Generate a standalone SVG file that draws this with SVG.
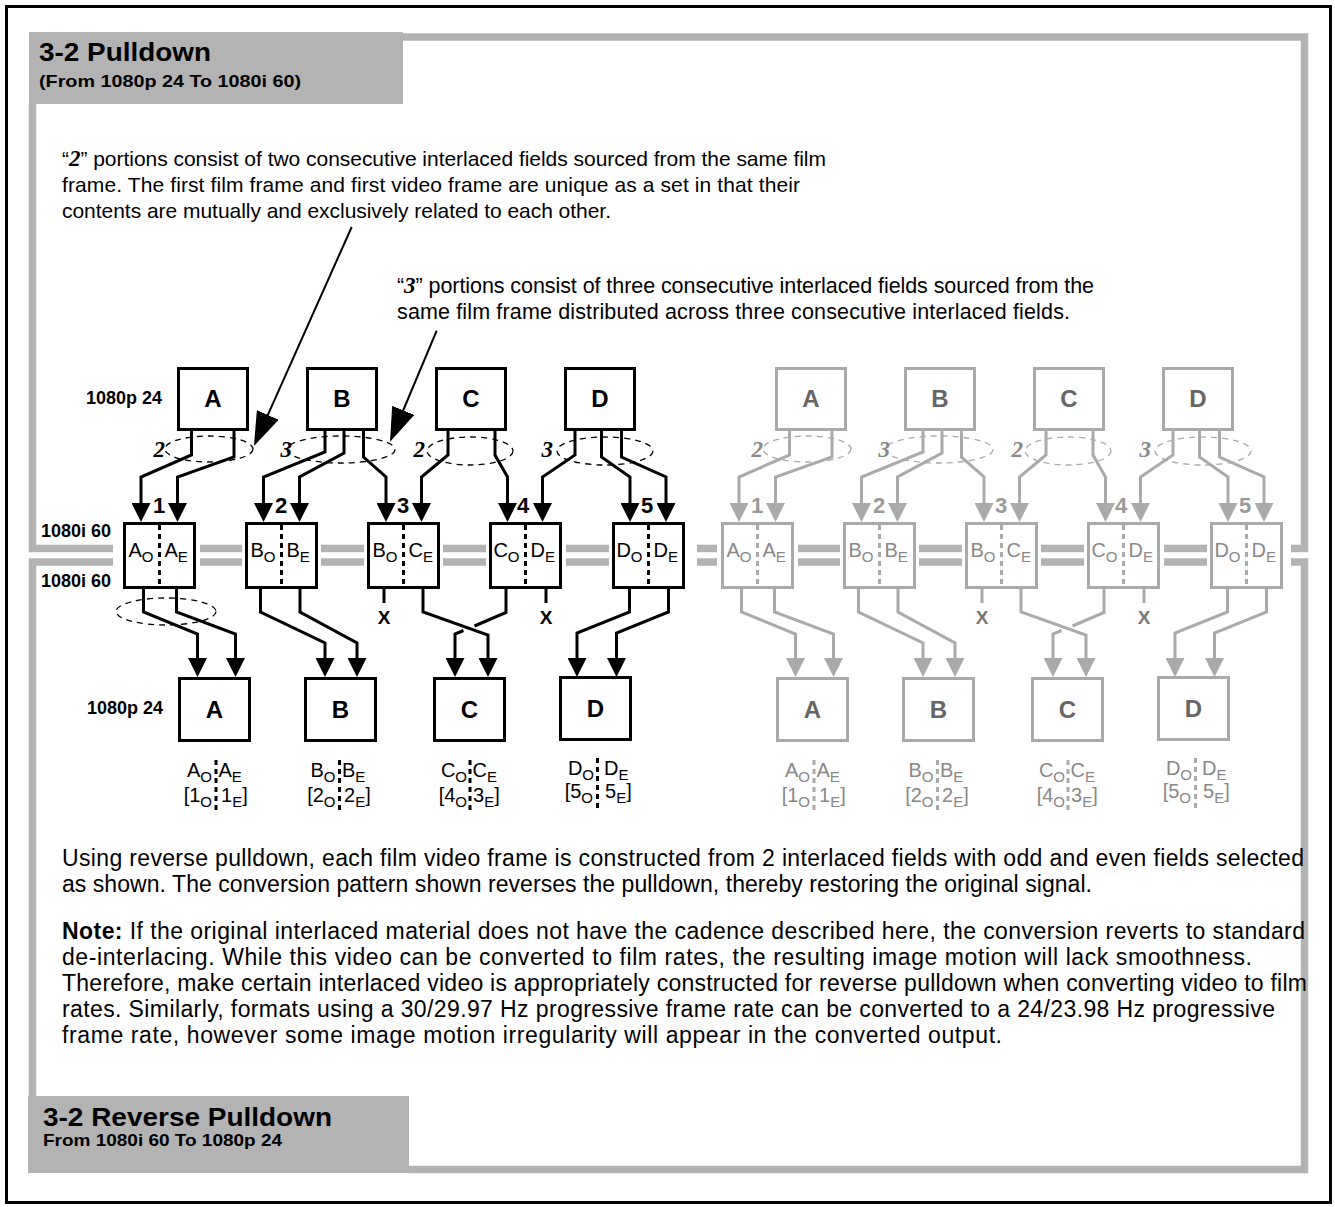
<svg xmlns="http://www.w3.org/2000/svg" width="1335" height="1207" viewBox="0 0 1335 1207">
<defs>
<style>
text{font-family:'Liberation Sans',Arial,sans-serif}
.body{fill:#000}
.p1{font-size:21px}
.p2{font-size:21.5px}
.p3{font-size:23px}
.it{font-family:'Liberation Serif','Times New Roman',serif;font-style:italic;font-weight:bold;font-size:23px}
.hd{font-weight:bold;fill:#000}
.lbl{font-weight:bold;font-size:18px;fill:#000}
.frm{stroke:#b3b3b3;stroke-width:7.5;fill:none}
.hdbox{fill:#b3b3b3}
.box{fill:#fff;stroke-width:3}
.k .box{stroke:#000}
.g .box{stroke:#aaa}
.sep{stroke-width:3;stroke-dasharray:5 4;fill:none}
.k .sep{stroke:#000}
.g .sep{stroke:#aaa}
.big{font-weight:bold;font-size:24px;text-anchor:middle}
.k .big{fill:#000}
.g .big{fill:#666}
.cn{font-family:'Liberation Sans Narrow','Arial Narrow','Liberation Sans',sans-serif;font-size:20px}
.k .cn{fill:#000}
.g .cn{fill:#888}
.sub{font-size:15px}
.num{font-family:'Liberation Sans Narrow','Arial Narrow','Liberation Sans',sans-serif;font-weight:bold;font-size:22px;text-anchor:middle}
.k .num{fill:#000}
.g .num{fill:#999}
.ln{fill:none;stroke-width:3}
.k .ln{stroke:#000;marker-end:url(#ahK)}
.g .ln{stroke:#aaa;marker-end:url(#ahG)}
.stub{fill:none;stroke-width:3}
.k .stub{stroke:#000}
.g .stub{stroke:#aaa}
.x{font-family:'Liberation Sans Narrow','Arial Narrow','Liberation Sans',sans-serif;font-weight:bold;font-size:19px;text-anchor:middle}
.k .x{fill:#000}
.g .x{fill:#777}
.ell{fill:none;stroke-width:1.3;stroke-dasharray:6 5}
.k .ell{stroke:#000}
.g .ell{stroke:#aaa}
.k .it{fill:#000}
.g .it{fill:#888}
.lead{stroke:#000;stroke-width:2;fill:none;marker-end:url(#ahBig)}
</style>
<marker id="ahK" viewBox="0 0 19 19" refX="15" refY="9.5" markerWidth="19" markerHeight="19" markerUnits="userSpaceOnUse" orient="auto"><path d="M0,0 L19,9.5 L0,19 z" fill="#000"/></marker>
<marker id="ahG" viewBox="0 0 19 19" refX="15" refY="9.5" markerWidth="19" markerHeight="19" markerUnits="userSpaceOnUse" orient="auto"><path d="M0,0 L19,9.5 L0,19 z" fill="#aaa"/></marker>
<marker id="ahBig" viewBox="0 0 34 24" refX="30" refY="12" markerWidth="34" markerHeight="24" markerUnits="userSpaceOnUse" orient="auto"><path d="M0,0 L34,12 L0,24 z" fill="#000"/></marker>
</defs>
<rect x="0" y="0" width="1335" height="1207" fill="#fff"/>
<rect x="6.5" y="6.5" width="1324" height="1196" fill="none" stroke="#000" stroke-width="3"/>

<g id="frame">
<path class="frm" d="M403,37 H1304.5 V548.5 H1291"/>
<path class="frm" d="M32.5,104 V548.5 H113"/>
<path class="frm" d="M113,562 H32.5 V1096"/>
<path class="frm" d="M409,1169.5 H1304.5 V562 H1291"/>
<g class="frm">
<path d="M200,548.5 H242 M321,548.5 H364 M443,548.5 H486 M566,548.5 H609 M697,548.5 H717 M798,548.5 H840 M919,548.5 H962 M1041,548.5 H1084 M1164,548.5 H1207"/>
<path d="M200,562 H242 M321,562 H364 M443,562 H486 M566,562 H609 M697,562 H717 M798,562 H840 M919,562 H962 M1041,562 H1084 M1164,562 H1207"/>
</g>
<g id="header-top">
<rect class="hdbox" x="29" y="32" width="374" height="72"/>
<text class="hd" x="39" y="61" font-size="25" textLength="172" lengthAdjust="spacingAndGlyphs">3-2 Pulldown</text>
<text class="hd" x="39" y="87" font-size="17" textLength="262" lengthAdjust="spacingAndGlyphs">(From 1080p 24 To 1080i 60)</text>
</g>
<g id="header-bottom">
<rect class="hdbox" x="28" y="1096" width="381" height="77"/>
<text class="hd" x="43" y="1126" font-size="25" textLength="289" lengthAdjust="spacingAndGlyphs">3-2 Reverse Pulldown</text>
<text class="hd" x="43" y="1146" font-size="17" textLength="239" lengthAdjust="spacingAndGlyphs">From 1080i 60 To 1080p 24</text>
</g>
</g>

<g id="notes">
<text class="body p1" x="62" y="166" textLength="764">“<tspan class="it">2</tspan>” portions consist of two consecutive interlaced fields sourced from the same film</text>
<text class="body p1" x="62" y="192" textLength="738">frame. The first film frame and first video frame are unique as a set in that their</text>
<text class="body p1" x="62" y="218" textLength="549">contents are mutually and exclusively related to each other.</text>
<text class="body p2" x="397" y="293" textLength="697">“<tspan class="it">3</tspan>” portions consist of three consecutive interlaced fields sourced from the</text>
<text class="body p2" x="397" y="319" textLength="673">same film frame distributed across three consecutive interlaced fields.</text>
<text class="body p3" x="62" y="866" textLength="1242">Using reverse pulldown, each film video frame is constructed from 2 interlaced fields with odd and even fields selected</text>
<text class="body p3" x="62" y="892" textLength="1030">as shown. The conversion pattern shown reverses the pulldown, thereby restoring the original signal.</text>
<text class="body p3" x="62" y="939" textLength="1243"><tspan font-weight="bold">Note:</tspan> If the original interlaced material does not have the cadence described here, the conversion reverts to standard</text>
<text class="body p3" x="62" y="965" textLength="1190">de-interlacing. While this video can be converted to film rates, the resulting image motion will lack smoothness.</text>
<text class="body p3" x="62" y="991" textLength="1245">Therefore, make certain interlaced video is appropriately constructed for reverse pulldown when converting video to film</text>
<text class="body p3" x="62" y="1017" textLength="1213">rates. Similarly, formats using a 30/29.97 Hz progressive frame rate can be converted to a 24/23.98 Hz progressive</text>
<text class="body p3" x="62" y="1043" textLength="940">frame rate, however some image motion irregularity will appear in the converted output.</text>
<text class="lbl" x="162" y="404" text-anchor="end">1080p 24</text>
<text class="lbl" x="41" y="537">1080i 60</text>
<text class="lbl" x="41" y="587">1080i 60</text>
<text class="lbl" x="163" y="714" text-anchor="end">1080p 24</text>
</g>

<!-- black set -->
<g class="k">
<g id="film-A"><rect class="box" x="178.5" y="368.5" width="69" height="61"/><text class="big" x="213" y="407">A</text></g>
<g id="film-B"><rect class="box" x="307.5" y="368.5" width="69" height="61"/><text class="big" x="342" y="407">B</text></g>
<g id="film-C"><rect class="box" x="436.5" y="368.5" width="69" height="61"/><text class="big" x="471" y="407">C</text></g>
<g id="film-D"><rect class="box" x="565.5" y="368.5" width="69" height="61"/><text class="big" x="600" y="407">D</text></g>

<g id="field-1"><rect class="box" x="124.5" y="523.5" width="70" height="64"/><line class="sep" x1="159.5" y1="525" x2="159.5" y2="586"/><text class="cn" x="153.5" y="557" text-anchor="end">A<tspan class="sub" dy="5">O</tspan></text><text class="cn" x="164.5" y="557">A<tspan class="sub" dy="5">E</tspan></text><text class="num" x="159" y="513">1</text></g>
<g id="field-2"><rect class="box" x="246.5" y="523.5" width="70" height="64"/><line class="sep" x1="281.5" y1="525" x2="281.5" y2="586"/><text class="cn" x="275.5" y="557" text-anchor="end">B<tspan class="sub" dy="5">O</tspan></text><text class="cn" x="286.5" y="557">B<tspan class="sub" dy="5">E</tspan></text><text class="num" x="281" y="513">2</text></g>
<g id="field-3"><rect class="box" x="368.5" y="523.5" width="70" height="64"/><line class="sep" x1="403.5" y1="525" x2="403.5" y2="586"/><text class="cn" x="397.5" y="557" text-anchor="end">B<tspan class="sub" dy="5">O</tspan></text><text class="cn" x="408.5" y="557">C<tspan class="sub" dy="5">E</tspan></text><text class="num" x="403" y="513">3</text></g>
<g id="field-4"><rect class="box" x="490.5" y="523.5" width="70" height="64"/><line class="sep" x1="525.5" y1="525" x2="525.5" y2="586"/><text class="cn" x="519.5" y="557" text-anchor="end">C<tspan class="sub" dy="5">O</tspan></text><text class="cn" x="530.5" y="557">D<tspan class="sub" dy="5">E</tspan></text><text class="num" x="523" y="513">4</text></g>
<g id="field-5"><rect class="box" x="613.5" y="523.5" width="70" height="64"/><line class="sep" x1="648.5" y1="525" x2="648.5" y2="586"/><text class="cn" x="642.5" y="557" text-anchor="end">D<tspan class="sub" dy="5">O</tspan></text><text class="cn" x="653.5" y="557">D<tspan class="sub" dy="5">E</tspan></text><text class="num" x="647" y="513">5</text></g>

<g id="out-A"><rect class="box" x="179.5" y="678.5" width="70" height="62"/><text class="big" x="214.5" y="718">A</text>
<line class="sep" x1="216" y1="760" x2="216" y2="810"/>
<text class="cn" x="212" y="777" text-anchor="end">A<tspan class="sub" dy="5">O</tspan></text><text class="cn" x="218.5" y="777">A<tspan class="sub" dy="5">E</tspan></text>
<text class="cn" x="212" y="802" text-anchor="end">[1<tspan class="sub" dy="5">O</tspan></text><text class="cn" x="221" y="802">1<tspan class="sub" dy="5">E</tspan><tspan dy="-5">]</tspan></text></g>
<g id="out-B"><rect class="box" x="305.5" y="678.5" width="70" height="62"/><text class="big" x="340.5" y="718">B</text>
<line class="sep" x1="339.5" y1="760" x2="339.5" y2="810"/>
<text class="cn" x="335.5" y="777" text-anchor="end">B<tspan class="sub" dy="5">O</tspan></text><text class="cn" x="342" y="777">B<tspan class="sub" dy="5">E</tspan></text>
<text class="cn" x="335.5" y="802" text-anchor="end">[2<tspan class="sub" dy="5">O</tspan></text><text class="cn" x="344" y="802">2<tspan class="sub" dy="5">E</tspan><tspan dy="-5">]</tspan></text></g>
<g id="out-C"><rect class="box" x="434.5" y="678.5" width="70" height="62"/><text class="big" x="469.5" y="718">C</text>
<line class="sep" x1="470" y1="760" x2="470" y2="810"/>
<text class="cn" x="467" y="777" text-anchor="end">C<tspan class="sub" dy="5">O</tspan></text><text class="cn" x="472.5" y="777">C<tspan class="sub" dy="5">E</tspan></text>
<text class="cn" x="467" y="802" text-anchor="end">[4<tspan class="sub" dy="5">O</tspan></text><text class="cn" x="473" y="802">3<tspan class="sub" dy="5">E</tspan><tspan dy="-5">]</tspan></text></g>
<g id="out-D"><rect class="box" x="560.5" y="677.5" width="70" height="62"/><text class="big" x="595.5" y="717">D</text>
<line class="sep" x1="597.5" y1="758" x2="597.5" y2="808"/>
<text class="cn" x="594" y="775" text-anchor="end">D<tspan class="sub" dy="5">O</tspan></text><text class="cn" x="604" y="775">D<tspan class="sub" dy="5">E</tspan></text>
<text class="cn" x="593" y="798" text-anchor="end">[5<tspan class="sub" dy="5">O</tspan></text><text class="cn" x="605" y="798">5<tspan class="sub" dy="5">E</tspan><tspan dy="-5">]</tspan></text></g>
</g>

<!-- gray set -->
<g class="g" transform="translate(598,0)">
<g id="film-A-g"><rect class="box" x="178.5" y="368.5" width="69" height="61"/><text class="big" x="213" y="407">A</text></g>
<g id="film-B-g"><rect class="box" x="307.5" y="368.5" width="69" height="61"/><text class="big" x="342" y="407">B</text></g>
<g id="film-C-g"><rect class="box" x="436.5" y="368.5" width="69" height="61"/><text class="big" x="471" y="407">C</text></g>
<g id="film-D-g"><rect class="box" x="565.5" y="368.5" width="69" height="61"/><text class="big" x="600" y="407">D</text></g>

<g id="field-1-g"><rect class="box" x="124.5" y="523.5" width="70" height="64"/><line class="sep" x1="159.5" y1="525" x2="159.5" y2="586"/><text class="cn" x="153.5" y="557" text-anchor="end">A<tspan class="sub" dy="5">O</tspan></text><text class="cn" x="164.5" y="557">A<tspan class="sub" dy="5">E</tspan></text><text class="num" x="159" y="513">1</text></g>
<g id="field-2-g"><rect class="box" x="246.5" y="523.5" width="70" height="64"/><line class="sep" x1="281.5" y1="525" x2="281.5" y2="586"/><text class="cn" x="275.5" y="557" text-anchor="end">B<tspan class="sub" dy="5">O</tspan></text><text class="cn" x="286.5" y="557">B<tspan class="sub" dy="5">E</tspan></text><text class="num" x="281" y="513">2</text></g>
<g id="field-3-g"><rect class="box" x="368.5" y="523.5" width="70" height="64"/><line class="sep" x1="403.5" y1="525" x2="403.5" y2="586"/><text class="cn" x="397.5" y="557" text-anchor="end">B<tspan class="sub" dy="5">O</tspan></text><text class="cn" x="408.5" y="557">C<tspan class="sub" dy="5">E</tspan></text><text class="num" x="403" y="513">3</text></g>
<g id="field-4-g"><rect class="box" x="490.5" y="523.5" width="70" height="64"/><line class="sep" x1="525.5" y1="525" x2="525.5" y2="586"/><text class="cn" x="519.5" y="557" text-anchor="end">C<tspan class="sub" dy="5">O</tspan></text><text class="cn" x="530.5" y="557">D<tspan class="sub" dy="5">E</tspan></text><text class="num" x="523" y="513">4</text></g>
<g id="field-5-g"><rect class="box" x="613.5" y="523.5" width="70" height="64"/><line class="sep" x1="648.5" y1="525" x2="648.5" y2="586"/><text class="cn" x="642.5" y="557" text-anchor="end">D<tspan class="sub" dy="5">O</tspan></text><text class="cn" x="653.5" y="557">D<tspan class="sub" dy="5">E</tspan></text><text class="num" x="647" y="513">5</text></g>

<g id="out-A-g"><rect class="box" x="179.5" y="678.5" width="70" height="62"/><text class="big" x="214.5" y="718">A</text>
<line class="sep" x1="216" y1="760" x2="216" y2="810"/>
<text class="cn" x="212" y="777" text-anchor="end">A<tspan class="sub" dy="5">O</tspan></text><text class="cn" x="218.5" y="777">A<tspan class="sub" dy="5">E</tspan></text>
<text class="cn" x="212" y="802" text-anchor="end">[1<tspan class="sub" dy="5">O</tspan></text><text class="cn" x="221" y="802">1<tspan class="sub" dy="5">E</tspan><tspan dy="-5">]</tspan></text></g>
<g id="out-B-g"><rect class="box" x="305.5" y="678.5" width="70" height="62"/><text class="big" x="340.5" y="718">B</text>
<line class="sep" x1="339.5" y1="760" x2="339.5" y2="810"/>
<text class="cn" x="335.5" y="777" text-anchor="end">B<tspan class="sub" dy="5">O</tspan></text><text class="cn" x="342" y="777">B<tspan class="sub" dy="5">E</tspan></text>
<text class="cn" x="335.5" y="802" text-anchor="end">[2<tspan class="sub" dy="5">O</tspan></text><text class="cn" x="344" y="802">2<tspan class="sub" dy="5">E</tspan><tspan dy="-5">]</tspan></text></g>
<g id="out-C-g"><rect class="box" x="434.5" y="678.5" width="70" height="62"/><text class="big" x="469.5" y="718">C</text>
<line class="sep" x1="470" y1="760" x2="470" y2="810"/>
<text class="cn" x="467" y="777" text-anchor="end">C<tspan class="sub" dy="5">O</tspan></text><text class="cn" x="472.5" y="777">C<tspan class="sub" dy="5">E</tspan></text>
<text class="cn" x="467" y="802" text-anchor="end">[4<tspan class="sub" dy="5">O</tspan></text><text class="cn" x="473" y="802">3<tspan class="sub" dy="5">E</tspan><tspan dy="-5">]</tspan></text></g>
<g id="out-D-g"><rect class="box" x="560.5" y="677.5" width="70" height="62"/><text class="big" x="595.5" y="717">D</text>
<line class="sep" x1="597.5" y1="758" x2="597.5" y2="808"/>
<text class="cn" x="594" y="775" text-anchor="end">D<tspan class="sub" dy="5">O</tspan></text><text class="cn" x="604" y="775">D<tspan class="sub" dy="5">E</tspan></text>
<text class="cn" x="593" y="798" text-anchor="end">[5<tspan class="sub" dy="5">O</tspan></text><text class="cn" x="605" y="798">5<tspan class="sub" dy="5">E</tspan><tspan dy="-5">]</tspan></text></g>
</g>

<g id="connectors">
<g class="k">
<path class="ln" d="M191.5,431 V455 L141,477 V518"/>
<path class="ln" d="M234,431 V457 L177.5,477 V518"/>
<path class="ln" d="M325,431 V452 L263.5,477 V518"/>
<path class="ln" d="M344,431 V453 L299.5,477 V518"/>
<path class="ln" d="M363.5,431 V457 L386,477 V518"/>
<path class="ln" d="M448,431 V455 L421.5,477 V518"/>
<path class="ln" d="M495,431 V455 L507.5,477 V518"/>
<path class="ln" d="M575,431 V455 L542.5,477 V518"/>
<path class="ln" d="M601.5,431 V457 L630,477 V518"/>
<path class="ln" d="M621.5,431 V457 L666,477 V518"/>
<path class="ln" d="M143.5,589 V612 L197.5,634 V673"/>
<path class="ln" d="M176.5,589 V612 L235.5,634 V673"/>
<path class="ln" d="M260.5,589 V612 L325,643 V673"/>
<path class="ln" d="M300,589 V612 L357,643 V673"/>
<path class="stub" d="M384,589 V603"/>
<path class="ln" d="M423,589 V612 L488,635 V673"/>
<path class="ln" d="M506,589 V612.5 L474.5,626 M463.5,630.5 L455,634 V673"/>
<path class="stub" d="M546,589 V603"/>
<path class="ln" d="M629.5,589 V612 L577,633 V673"/>
<path class="ln" d="M668.5,589 V612 L616.5,633 V673"/>
<text class="x" x="384" y="624">X</text>
<text class="x" x="546" y="624">X</text>
<ellipse class="ell" cx="209" cy="449" rx="44" ry="13"/>
<ellipse class="ell" cx="341" cy="449.5" rx="54" ry="13.5"/>
<ellipse class="ell" cx="470" cy="451" rx="43" ry="14"/>
<ellipse class="ell" cx="605" cy="451" rx="48" ry="14"/>
<ellipse class="ell" cx="166" cy="611.5" rx="50" ry="13.5"/>
<text class="it" x="165" y="457" text-anchor="end">2</text>
<text class="it" x="292" y="457" text-anchor="end">3</text>
<text class="it" x="425" y="457" text-anchor="end">2</text>
<text class="it" x="553" y="457" text-anchor="end">3</text>
<path class="lead" d="M351.7,227 L255.6,442.3"/>
<path class="lead" d="M436.7,330.7 L391.6,438"/>
</g>
<g class="g" transform="translate(598,0)">
<path class="ln" d="M191.5,431 V455 L141,477 V518"/>
<path class="ln" d="M234,431 V457 L177.5,477 V518"/>
<path class="ln" d="M325,431 V452 L263.5,477 V518"/>
<path class="ln" d="M344,431 V453 L299.5,477 V518"/>
<path class="ln" d="M363.5,431 V457 L386,477 V518"/>
<path class="ln" d="M448,431 V455 L421.5,477 V518"/>
<path class="ln" d="M495,431 V455 L507.5,477 V518"/>
<path class="ln" d="M575,431 V455 L542.5,477 V518"/>
<path class="ln" d="M601.5,431 V457 L630,477 V518"/>
<path class="ln" d="M621.5,431 V457 L666,477 V518"/>
<path class="ln" d="M143.5,589 V612 L197.5,634 V673"/>
<path class="ln" d="M176.5,589 V612 L235.5,634 V673"/>
<path class="ln" d="M260.5,589 V612 L325,643 V673"/>
<path class="ln" d="M300,589 V612 L357,643 V673"/>
<path class="stub" d="M384,589 V603"/>
<path class="ln" d="M423,589 V612 L488,635 V673"/>
<path class="ln" d="M506,589 V612.5 L474.5,626 M463.5,630.5 L455,634 V673"/>
<path class="stub" d="M546,589 V603"/>
<path class="ln" d="M629.5,589 V612 L577,633 V673"/>
<path class="ln" d="M668.5,589 V612 L616.5,633 V673"/>
<text class="x" x="384" y="624">X</text>
<text class="x" x="546" y="624">X</text>
<ellipse class="ell" cx="209" cy="449" rx="44" ry="13"/>
<ellipse class="ell" cx="341" cy="449.5" rx="54" ry="13.5"/>
<ellipse class="ell" cx="470" cy="451" rx="43" ry="14"/>
<ellipse class="ell" cx="605" cy="451" rx="48" ry="14"/>
<text class="it" x="165" y="457" text-anchor="end">2</text>
<text class="it" x="292" y="457" text-anchor="end">3</text>
<text class="it" x="425" y="457" text-anchor="end">2</text>
<text class="it" x="553" y="457" text-anchor="end">3</text>
</g>
</g>
</svg>
